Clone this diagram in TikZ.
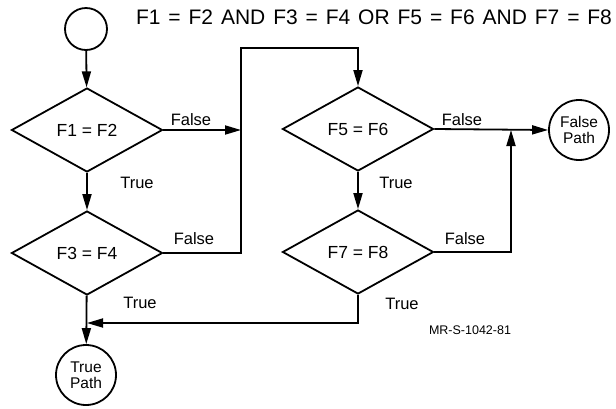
\documentclass[tikz,border=0pt]{standalone}
\usepackage{fontspec}
\setmainfont{Liberation Sans}
\usetikzlibrary{shapes.geometric,arrows.meta}
\begin{document}
\begin{tikzpicture}[x=1pt,y=-1pt,
  line width=1.8pt,
  arr/.style={-{Triangle[length=16pt,width=9pt]}},
  dia/.style={draw,diamond,minimum width=151pt,minimum height=84pt,inner sep=0pt,font=\fontsize{17.5}{20}\selectfont},
  term/.style={draw,circle,inner sep=0pt,align=center,font=\fontsize{15.5}{16}\selectfont},
  lbl/.style={inner sep=0pt,font=\fontsize{16.5}{18}\selectfont}]
\useasboundingbox (0,0) rectangle (616,408);
\node[inner sep=0pt,font=\fontsize{21}{24}\selectfont] (title) at (374,17.5) {\spaceskip 7.9pt\relax F1 = F2 AND F3 = F4 OR F5 = F6 AND F7 = F8};
\node[draw,circle,minimum size=42pt,inner sep=0pt] (start) at (86,29) {};
\node[dia] (d1) at (87,130) {F1 = F2};
\node[dia] (d2) at (87,253) {F3 = F4};
\node[dia] (d3) at (358,129) {F5 = F6};
\node[dia] (d4) at (358,252) {F7 = F8};
\node[term,minimum size=60pt] (fp) at (579,130) {False\\Path};
\node[term,minimum size=60pt] (tp) at (86,375) {True\\Path};
\coordinate (ja) at (241,130);
\coordinate (jb) at (241,253);
\coordinate (c1) at (241,48);
\coordinate (c2) at (358,48);
\coordinate (j2) at (511,130);
\coordinate (j5) at (87,323);
\draw[arr] (start) -- (d1);
\draw[arr] (d1) -- (d2);
\draw[arr] (d2) -- (tp);
\draw[arr] (d3) -- (d4);
\draw[arr] (d1.east) -- (ja);
\draw[arr] (d2.east) -- (jb) -- (c1) -- (c2) -- (d3.north);
\draw[arr] (d3.east) -- (fp.west);
\draw[arr] (d4.east) -| (j2);
\draw[arr] (d4.south) |- (j5);
\node[lbl] (f1) at (191,120) {False};
\node[lbl] (t1) at (137,183) {True};
\node[lbl] (f2) at (194,239) {False};
\node[lbl] (t2) at (140,303) {True};
\node[lbl] (f3) at (462,120) {False};
\node[lbl] (t3) at (396,183) {True};
\node[lbl] (f4) at (465,239) {False};
\node[lbl] (t4) at (402,304) {True};
\node[inner sep=0pt,font=\fontsize{12.5}{14}\selectfont] (mr) at (470,330) {MR-S-1042-81};
\end{tikzpicture}
\end{document}
